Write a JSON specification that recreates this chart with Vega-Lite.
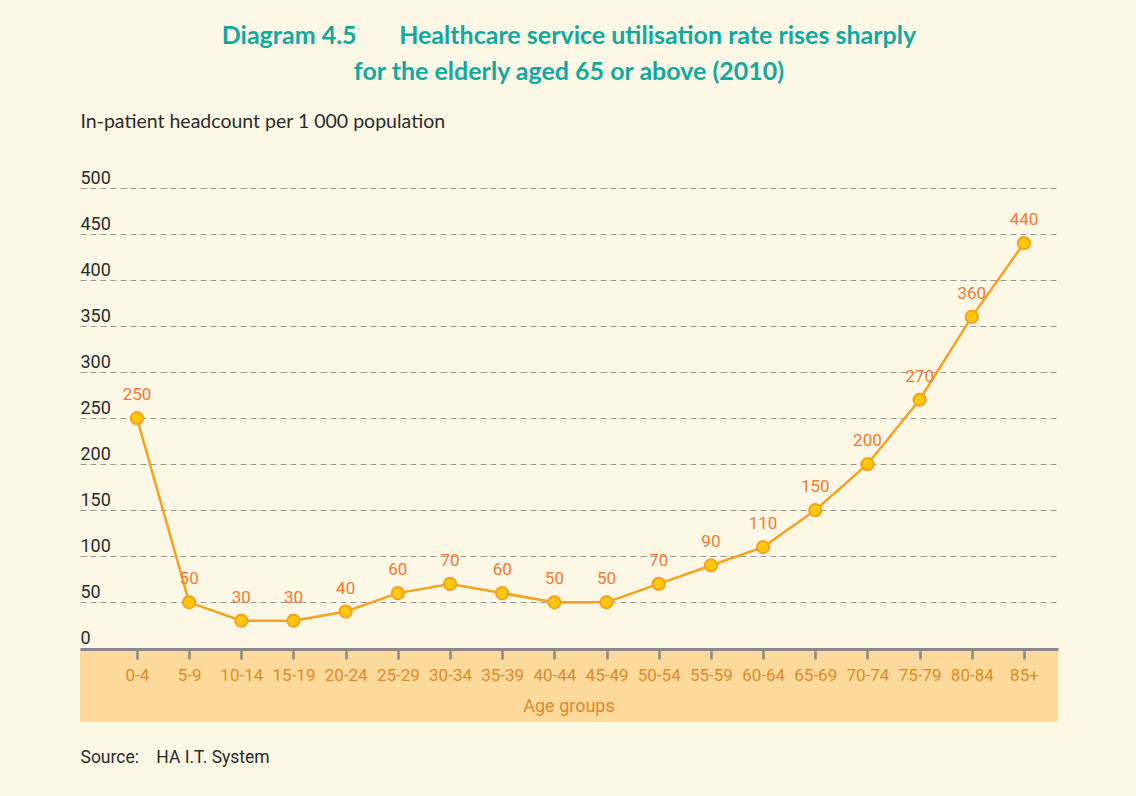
{
  "$schema": "https://vega.github.io/schema/vega-lite/v6.json",
  "autosize": "none",
  "width": 978,
  "height": 534,
  "padding": {"left": 80, "top": 188, "right": 78, "bottom": 74},
  "background": "#FDF7E6",
  "title": {
    "text": ["Diagram 4.5\u00a0\u00a0\u00a0\u00a0\u00a0\u00a0 Healthcare service utilisation rate rises sharply", "for the elderly aged 65 or above (2010)"],
    "anchor": "middle",
    "frame": "group",
    "font": "Lato",
    "fontSize": 25,
    "fontWeight": "bold",
    "color": "#13A89E",
    "lineHeight": 36,
    "offset": 26
  },
  "config": {
    "view": {"stroke": null},
    "axis": {"labelFont": "Roboto", "titleFont": "Roboto"}
  },
  "datasets": {
    "rates": [
      {"age": "0-4", "rate": 250},
      {"age": "5-9", "rate": 50},
      {"age": "10-14", "rate": 30},
      {"age": "15-19", "rate": 30},
      {"age": "20-24", "rate": 40},
      {"age": "25-29", "rate": 60},
      {"age": "30-34", "rate": 70},
      {"age": "35-39", "rate": 60},
      {"age": "40-44", "rate": 50},
      {"age": "45-49", "rate": 50},
      {"age": "50-54", "rate": 70},
      {"age": "55-59", "rate": 90},
      {"age": "60-64", "rate": 110},
      {"age": "65-69", "rate": 150},
      {"age": "70-74", "rate": 200},
      {"age": "75-79", "rate": 270},
      {"age": "80-84", "rate": 360},
      {"age": "85+", "rate": 440}
    ]
  },
  "layer": [
    {
      "data": {"values": [{"lo": -80, "hi": 0}]},
      "mark": {"type": "rect", "color": "#FDD99B"},
      "encoding": {
        "y": {"field": "lo", "type": "quantitative"},
        "y2": {"field": "hi"}
      }
    },
    {
      "data": {"values": [{"label": "Age groups", "pos": -64}]},
      "mark": {"type": "text", "font": "Roboto", "fontSize": 18, "color": "#E08A26", "baseline": "middle"},
      "encoding": {
        "y": {"field": "pos", "type": "quantitative"},
        "text": {"field": "label"}
      }
    },
    {
      "data": {"name": "rates"},
      "encoding": {
        "x": {
          "field": "age",
          "type": "ordinal",
          "sort": null,
          "scale": {"type": "point", "padding": 0.872, "align": 0.626},
          "axis": {
            "orient": "bottom",
            "offset": -73,
            "zindex": 1,
            "title": "Source:\u00a0\u00a0\u00a0 HA I.T. System",
            "titleX": 0,
            "titleY": 108,
            "titleAlign": "left",
            "titleAnchor": "start",
            "titleBaseline": "middle",
            "titleAngle": 0,
            "titleColor": "#2B2B2B",
            "titleFontSize": 17.5,
            "titleFontWeight": "normal",
            "labelAngle": 0,
            "labelColor": "#E08A26",
            "labelFontSize": 17,
            "labelPadding": 8,
            "domainColor": "#8A8A8A",
            "domainWidth": 3,
            "tickColor": "#8A8A8A",
            "tickWidth": 2.5,
            "tickSize": 10,
            "grid": false
          }
        },
        "y": {
          "field": "rate",
          "type": "quantitative",
          "scale": {"domain": [-80, 500], "nice": false, "zero": false},
          "axis": {
            "values": [0, 50, 100, 150, 200, 250, 300, 350, 400, 450, 500],
            "title": "In-patient headcount per 1 000 population",
            "titleFont": "Lato",
            "titleFontSize": 19.5,
            "titleFontWeight": "normal",
            "titleColor": "#2B2B2B",
            "titleAngle": 0,
            "titleX": 0,
            "titleY": -67,
            "titleAlign": "left",
            "titleBaseline": "middle",
            "titleAnchor": "start",
            "labelAlign": "left",
            "labelBaseline": "bottom",
            "labelPadding": 0,
            "labelOffset": -1,
            "labelFontSize": 18,
            "labelColor": "#2B2B2B",
            "ticks": false,
            "tickSize": 0,
            "domain": false,
            "grid": true,
            "gridColor": "#9A9A9A",
            "gridDash": [6, 4],
            "gridWidth": 1.2
          }
        }
      },
      "layer": [
        {"mark": {"type": "line", "color": "#F7A21C", "strokeWidth": 2.5}},
        {"mark": {"type": "point", "filled": true, "fill": "#FFC80A", "stroke": "#F7A21C", "strokeWidth": 2, "size": 150, "opacity": 1}},
        {
          "mark": {"type": "text", "dy": -23, "font": "Roboto", "fontSize": 17, "color": "#F47A30"},
          "encoding": {"text": {"field": "rate", "type": "quantitative"}}
        }
      ]
    }
  ]
}
